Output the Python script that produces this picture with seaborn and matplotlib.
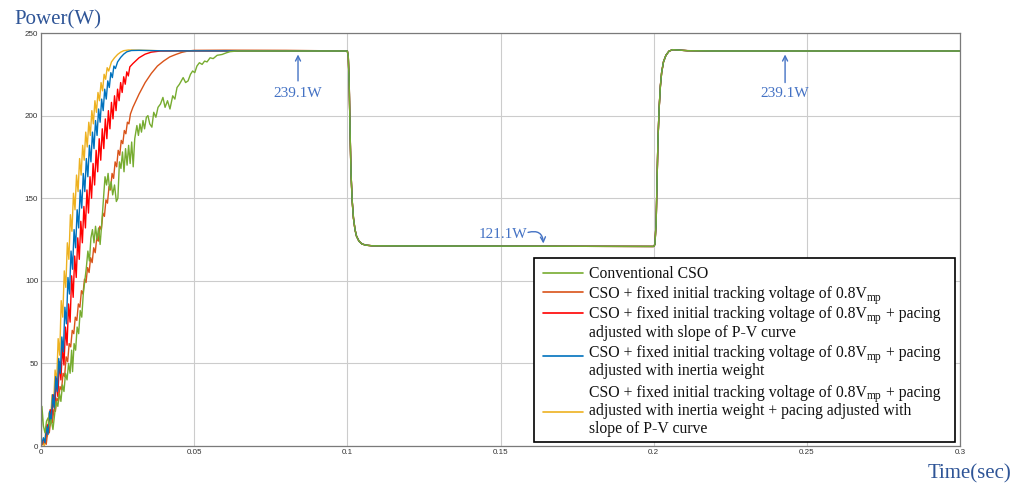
import matplotlib
matplotlib.use("Agg")
import matplotlib.pyplot as plt
import seaborn as sns
import pandas as pd
from matplotlib.patches import Rectangle
from matplotlib.lines import Line2D

# ---------------- data: tracked PV power (W) versus time (s) ----------------
series_names = [
    "Conventional CSO",
    "CSO + fixed initial tracking voltage of 0.8Vmp",
    "CSO + fixed 0.8Vmp + slope pacing",
    "CSO + fixed 0.8Vmp + inertia pacing",
    "CSO + fixed 0.8Vmp + inertia + slope pacing",
]
series_colors = ["#77ac30", "#d95319", "#ff0000", "#0072bd", "#edb120"]

# start-up transient of each tracker
green_t = [0.0000, 0.0003, 0.0008, 0.0013, 0.0018, 0.0023, 0.0028, 0.0033, 0.0039, 0.0045,
           0.0050, 0.0055, 0.0060, 0.0065, 0.0070, 0.0075, 0.0080, 0.0085, 0.0090, 0.0095,
           0.0100, 0.0103, 0.0108, 0.0113, 0.0118, 0.0123, 0.0128, 0.0133, 0.0138, 0.0143,
           0.0148, 0.0153, 0.0158, 0.0163, 0.0168, 0.0173, 0.0178, 0.0183, 0.0188, 0.0193,
           0.0198, 0.0204, 0.0209, 0.0214, 0.0219, 0.0224, 0.0229, 0.0234, 0.0240, 0.0246,
           0.0251, 0.0256, 0.0261, 0.0266, 0.0271, 0.0276, 0.0281, 0.0286, 0.0291, 0.0296,
           0.0301, 0.0306, 0.0313, 0.0318, 0.0323, 0.0328, 0.0333, 0.0338, 0.0344, 0.0349,
           0.0355, 0.0362, 0.0368, 0.0375, 0.0382, 0.0390, 0.0398, 0.0405, 0.0413, 0.0421,
           0.0430, 0.0437, 0.0444, 0.0452, 0.0458, 0.0464, 0.0472, 0.0480, 0.0488, 0.0495,
           0.0502, 0.0509, 0.0517, 0.0526, 0.0534, 0.0542, 0.0552, 0.0562, 0.0575, 0.0591,
           0.0605, 0.0617, 0.0640, 0.0800]
green_p = [0, 24, 12, 8, 15, 17, 12, 16, 10, 20,
           27, 24, 32, 27, 37, 33, 44, 40, 50, 44,
           58, 45, 62, 58, 72, 68, 82, 78, 92, 100,
           108, 118, 112, 126, 131, 123, 133, 125, 132, 122,
           134, 150, 163, 158, 165, 155, 160, 152, 158, 148,
           150, 172, 168, 178, 166, 180, 170, 182, 171, 184,
           169, 186, 194, 188, 195, 190, 197, 192, 199, 200,
           195, 193, 202, 199, 205, 207, 211, 205, 209, 204,
           212, 210, 217, 219, 221, 223, 220, 221, 225, 227,
           226, 230, 232, 231, 233, 232.5, 235, 234.5, 236.5, 237,
           238, 238.7, 239.1, 239.1]

orange_t = [0.0000, 0.0012, 0.0017, 0.0022, 0.0027, 0.0032, 0.0037, 0.0042, 0.0047, 0.0052,
            0.0057, 0.0062, 0.0067, 0.0072, 0.0077, 0.0082, 0.0087, 0.0092, 0.0097, 0.0102,
            0.0107, 0.0112, 0.0117, 0.0122, 0.0127, 0.0132, 0.0137, 0.0142, 0.0147, 0.0152,
            0.0157, 0.0162, 0.0167, 0.0172, 0.0177, 0.0182, 0.0187, 0.0192, 0.0197, 0.0202,
            0.0207, 0.0212, 0.0217, 0.0222, 0.0227, 0.0232, 0.0237, 0.0242, 0.0247, 0.0252,
            0.0257, 0.0262, 0.0267, 0.0272, 0.0277, 0.0282, 0.0287, 0.0292, 0.0300, 0.0320,
            0.0340, 0.0360, 0.0380, 0.0400, 0.0420, 0.0440, 0.0460, 0.0480, 0.0500, 0.0600,
            0.0800]
orange_p = [0, 3, 1, 9, 8, 16, 14, 22, 21, 29,
            27, 36, 34, 44, 42, 54, 51, 62, 60, 70,
            68, 78, 76, 86, 84, 94, 92, 101, 99, 108,
            105, 114, 111, 120, 117, 126, 124, 133, 131, 141,
            139, 149, 147, 157, 155, 165, 162, 172, 169, 179,
            176, 185, 183, 191, 189, 196, 195, 201, 205, 213,
            220, 225.5, 230, 233, 235.5, 237, 238.3, 239.1, 239.5, 239.6,
            239.5]

red_t = [0.0000, 0.0010, 0.0015, 0.0020, 0.0025, 0.0030, 0.0035, 0.0040, 0.0045, 0.0050,
         0.0055, 0.0060, 0.0065, 0.0070, 0.0075, 0.0080, 0.0085, 0.0090, 0.0095, 0.0100,
         0.0105, 0.0110, 0.0115, 0.0120, 0.0125, 0.0130, 0.0135, 0.0140, 0.0145, 0.0150,
         0.0155, 0.0160, 0.0165, 0.0170, 0.0175, 0.0180, 0.0185, 0.0190, 0.0195, 0.0200,
         0.0205, 0.0210, 0.0215, 0.0220, 0.0225, 0.0230, 0.0235, 0.0240, 0.0245, 0.0250,
         0.0255, 0.0260, 0.0265, 0.0270, 0.0275, 0.0280, 0.0285, 0.0290, 0.0300, 0.0320,
         0.0340, 0.0360, 0.0390, 0.0450, 0.0800]
red_p = [0, 4, 2, 13, 8, 22, 15, 31, 22, 41,
         30, 51, 40, 60, 49, 72, 61, 86, 75, 103,
         90, 115, 102, 126, 113, 136, 123, 145, 132, 155,
         141, 163, 150, 171, 158, 179, 166, 186, 173, 192,
         180, 198, 186, 203, 192, 208, 198, 212, 203, 216,
         209, 220, 214, 223.5, 219, 226.5, 224, 229.5, 231.5, 235,
         237.2, 238.4, 239.1, 239.2, 239.1]

blue_t = [0.0000, 0.0008, 0.0013, 0.0018, 0.0023, 0.0028, 0.0033, 0.0038, 0.0043, 0.0048,
          0.0053, 0.0058, 0.0063, 0.0068, 0.0073, 0.0078, 0.0083, 0.0088, 0.0093, 0.0098,
          0.0103, 0.0108, 0.0113, 0.0118, 0.0123, 0.0128, 0.0133, 0.0138, 0.0143, 0.0148,
          0.0153, 0.0158, 0.0163, 0.0168, 0.0173, 0.0178, 0.0183, 0.0188, 0.0193, 0.0198,
          0.0203, 0.0208, 0.0213, 0.0218, 0.0223, 0.0228, 0.0233, 0.0238, 0.0243, 0.0250,
          0.0260, 0.0270, 0.0280, 0.0295, 0.0320, 0.0400, 0.0800]
blue_p = [0, 5, 2, 12, 7, 21, 14, 31, 23, 42,
          33, 53, 44, 66, 57, 84, 74, 102, 92, 118,
          107, 131, 120, 143, 132, 155, 144, 165, 154, 174,
          163, 182, 172, 190, 180, 197, 188, 204, 196, 210,
          203, 216, 210, 221, 217, 226, 223, 230, 228.5, 232.5,
          235.2, 237.2, 238.6, 239.4, 239.5, 239.2, 239.1]

yellow_t = [0.0000, 0.0006, 0.0011, 0.0016, 0.0021, 0.0026, 0.0031, 0.0036, 0.0041, 0.0046,
            0.0051, 0.0056, 0.0061, 0.0066, 0.0071, 0.0076, 0.0081, 0.0086, 0.0091, 0.0096,
            0.0101, 0.0106, 0.0111, 0.0116, 0.0121, 0.0126, 0.0131, 0.0136, 0.0141, 0.0146,
            0.0151, 0.0156, 0.0161, 0.0166, 0.0171, 0.0176, 0.0181, 0.0186, 0.0191, 0.0196,
            0.0201, 0.0206, 0.0211, 0.0216, 0.0221, 0.0230, 0.0240, 0.0250, 0.0260, 0.0270,
            0.0285, 0.0320, 0.0400, 0.0800]
yellow_p = [0, 2, 0, 10, 6, 20, 14, 31, 24, 46,
            38, 65, 55, 88, 78, 106, 96, 123, 113, 140,
            130, 153, 143, 164, 154, 174, 164, 182, 173, 190,
            181, 196, 188, 203, 195, 209, 202, 214, 209, 220,
            215, 225, 222, 229, 227, 232.5, 235, 237, 238.4, 239.3,
            239.7, 239.6, 239.2, 239.1]

# irradiance step down at 0.1 s and back up at 0.2 s (common to all trackers)
step_down_t = [0.1000, 0.1003, 0.1006, 0.1009, 0.1012, 0.1016, 0.1020, 0.1025, 0.1030, 0.1038,
               0.1048, 0.1060, 0.1080, 0.1200, 0.1990]
step_down_p = [239.1, 236, 220, 190, 165, 148, 138, 131, 127, 124,
               122.3, 121.6, 121.2, 121.1, 120.8]
step_up_t = [0.2000, 0.2004, 0.2008, 0.2011, 0.2014, 0.2018, 0.2022, 0.2026, 0.2032, 0.2040,
             0.2050, 0.2062, 0.2080, 0.2110, 0.2200, 0.3000]
step_up_p = [120.8, 122, 135, 160, 185, 205, 218, 226, 232.5, 236.5,
             239, 239.9, 239.7, 239.3, 239.1, 239.1]

# annotation values
level_high = "239.1W"
level_low = "121.1W"

# ---------------- assemble long-form table ----------------
rise_t = [green_t, orange_t, red_t, blue_t, yellow_t]
rise_p = [green_p, orange_p, red_p, blue_p, yellow_p]
frames = []
for name, tt, pp in zip(series_names, rise_t, rise_p):
    frames.append(pd.DataFrame({
        "time": tt + step_down_t + step_up_t,
        "power": pp + step_down_p + step_up_p,
        "method": name,
    }))
df = pd.concat(frames, ignore_index=True)

# ---------------- figure ----------------
sns.set_theme(style="white")
plt.rcParams["font.family"] = ["Liberation Sans", "DejaVu Sans"]

W, H = 1025, 486
fig = plt.figure(figsize=(W / 100, H / 100), dpi=100)
ax = fig.add_axes([41 / W, 1 - 446 / H, (960 - 41) / W, (446 - 33) / H])

draw_order = [series_names[i] for i in (4, 2, 1, 3, 0)]
palette = dict(zip(series_names, series_colors))
sns.lineplot(data=df, x="time", y="power", hue="method", hue_order=draw_order,
             palette=palette, estimator=None, sort=False, linewidth=1.0,
             legend=False, ax=ax)

ax.set_xlim(0, 0.3)
ax.set_ylim(0, 250)
xt = [0, 0.05, 0.1, 0.15, 0.2, 0.25, 0.3]
xt_labels = ["0", "0.05", "0.1", "0.15", "0.2", "0.25", "0.3"]
yt = [0, 50, 100, 150, 200, 250]
ax.set_xticks(xt)
ax.set_xticklabels(xt_labels)
ax.set_yticks(yt)
ax.set_yticklabels([str(v) for v in yt])
ax.set_xlabel("")
ax.set_ylabel("")
ax.grid(True, color="#cccccc", linewidth=0.8)
ax.set_axisbelow(True)
ax.tick_params(direction="in", length=4, width=0.8, color="#777777",
               labelsize=5.8, labelcolor="#333333", pad=2)
for sp in ax.spines.values():
    sp.set_color("#7a7a7a")
    sp.set_linewidth(0.9)

# axis titles
serif = ["Liberation Serif", "DejaVu Serif"]
fig.text(14 / W, 1 - 24 / H, "Power(W)", fontsize=15, family=serif,
         color="#2f5597", va="baseline", ha="left")
fig.text(928 / W, 1 - 478 / H, "Time(sec)", fontsize=15, family=serif,
         color="#2f5597", va="baseline", ha="left")

# value annotations
ann_color = "#4472c4"
arrow = dict(arrowstyle="->", color=ann_color, lw=1.0, shrinkA=0, shrinkB=0,
             mutation_scale=9)
ax.text(0.0839, 211.3, level_high, ha="center", va="baseline", fontsize=11,
        family=serif, color=ann_color)
ax.annotate("", xy=(0.0839, 237.0), xytext=(0.0839, 221.0), arrowprops=arrow)
ax.text(0.2429, 211.3, level_high, ha="center", va="baseline", fontsize=11,
        family=serif, color=ann_color)
ax.annotate("", xy=(0.2429, 237.0), xytext=(0.2429, 220.0), arrowprops=arrow)
ax.text(0.1507, 125.9, level_low, ha="center", va="baseline", fontsize=11,
        family=serif, color=ann_color)
ax.annotate("", xy=(0.1640, 122.6), xytext=(0.1590, 129.3),
            arrowprops=dict(arrow, connectionstyle="arc3,rad=-0.6"))

# legend box
def fx(px):
    return px / W

def fy(py):
    return 1 - py / H

fig.patches.append(Rectangle((fx(534), fy(442)), fx(955) - fx(534), fy(258) - fy(442),
                             transform=fig.transFigure, facecolor="white",
                             edgecolor="black", linewidth=1.2, zorder=5))
handle_y = [273, 292, 313, 356, 412]
head = "CSO + fixed initial tracking voltage of 0.8V"
legend_lines = [
    [(278, ["Conventional CSO"])],
    [(298, [head, "mp", ""])],
    [(318, [head, "mp", " + pacing"]),
     (336.5, ["adjusted with slope of P-V curve"])],
    [(357, [head, "mp", " + pacing"]),
     (375, ["adjusted with inertia weight"])],
    [(397, [head, "mp", " + pacing"]),
     (414.5, ["adjusted with inertia weight + pacing adjusted with"]),
     (433, ["slope of P-V curve"])],
]
renderer = fig.canvas.get_renderer()
for hy, col, lines in zip(handle_y, series_colors, legend_lines):
    fig.lines.append(Line2D([fx(543), fx(583)], [fy(hy), fy(hy)],
                            transform=fig.transFigure, color=col, linewidth=1.2,
                            zorder=6))
    for by, parts in lines:
        xpix = 589.0
        for k, part in enumerate(parts):
            is_sub = (k == 1)
            if part == "":
                continue
            t = fig.text(fx(xpix), fy(by + (2.5 if is_sub else 0)), part,
                         fontsize=8.3 if is_sub else 11.3, family=serif,
                         color="#111111", va="baseline", ha="left", zorder=7)
            xpix = t.get_window_extent(renderer).x1

fig.savefig("out.png", dpi=100, facecolor="white")
